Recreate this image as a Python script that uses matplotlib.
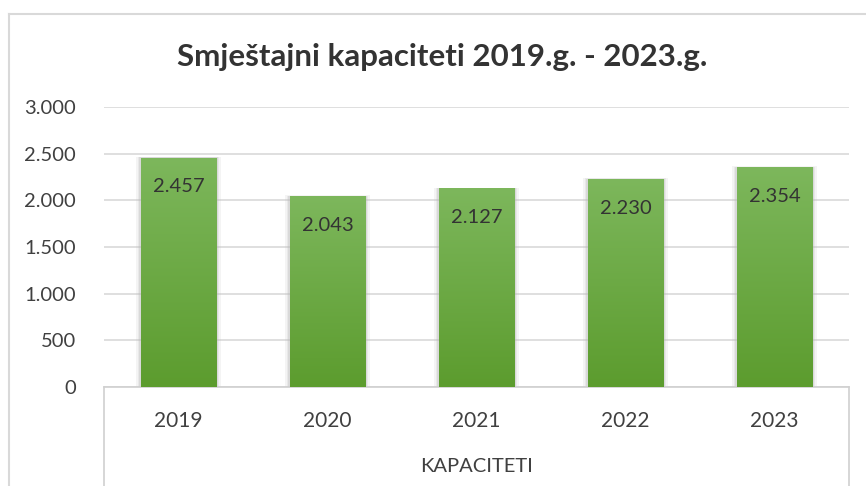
import matplotlib
matplotlib.use("Agg")
import matplotlib.pyplot as plt
import numpy as np
from matplotlib.colors import LinearSegmentedColormap
from matplotlib.lines import Line2D
from matplotlib.patches import Rectangle

categories = ["2019", "2020", "2021", "2022", "2023"]
values = [2457, 2043, 2127, 2230, 2354]
labels = ["2.457", "2.043", "2.127", "2.230", "2.354"]
yticks = [0, 500, 1000, 1500, 2000, 2500, 3000]
ytick_labels = ["0", "500", "1.000", "1.500", "2.000", "2.500", "3.000"]
title = "Smještajni kapaciteti 2019.g. - 2023.g."
group_label = "KAPACITETI"

plt.rcParams['font.family'] = ['Lato', 'DejaVu Sans']

W, H = 866, 486
fig = plt.figure(figsize=(W/100, H/100), dpi=100)
L, R, T, B = 104, 849, 107, 387
ax = fig.add_axes([L/W, 1-B/H, (R-L)/W, (B-T)/H])
ax.set_xlim(-0.5, len(categories)-0.5)
ax.set_ylim(0, 3000)

cmap = LinearSegmentedColormap.from_list("g", ["#5c9c2e", "#7db75c"])
width = 0.51
x = np.arange(len(categories))
for xi, v, lab in zip(x, values, labels):
    for k, a in [(0.03, 0.15), (0.02, 0.2), (0.01, 0.3)]:
        sh = Rectangle((xi - width/2 - k, -10), width + 2*k, v + 10 + k*300,
                       facecolor="#b8b8b8", edgecolor="none", alpha=a, zorder=2)
        ax.add_patch(sh)
    bar = ax.bar(xi, v, width=width, color="#6aa840", zorder=3, edgecolor="none")[0]
    grad = np.linspace(0, 1, 256).reshape(-1, 1)
    im = ax.imshow(grad, cmap=cmap, extent=[xi - width/2, xi + width/2, 0, v],
                   origin="lower", aspect="auto", zorder=4)
    im.set_clip_path(bar)
    ax.annotate(lab, (xi, v), xytext=(0, -21), textcoords="offset points",
                ha="center", va="center", fontsize=14.5, color="#333333", zorder=5)

ax.set_yticks(yticks)
ax.set_yticklabels(ytick_labels, fontsize=14.5, color="#404040")
ax.set_xticks(x)
ax.set_xticklabels(categories, fontsize=15, color="#404040")
ax.tick_params(axis="y", length=0, pad=20)
ax.tick_params(axis="x", length=0, pad=17)
ax.yaxis.grid(True, color="#d9d9d9", linewidth=1.2, zorder=0)
ax.set_axisbelow(True)
for s in ["top", "right", "left"]:
    ax.spines[s].set_visible(False)
ax.spines["bottom"].set_color("#d0d0d0")
ax.spines["bottom"].set_linewidth(1.2)

# multi-level category axis boxes
for px in (L, R):
    fig.add_artist(Line2D([px/W, px/W], [1-B/H, 0], color="#d0d0d0", lw=1.2))
fig.text((L+R)/2/W, 1-466/H, group_label, ha="center", va="center",
         fontsize=14.5, color="#404040")

# chart border
fig.add_artist(Line2D([9/W, 1], [1-14/H, 1-14/H], color="#d9d9d9", lw=1.5))
fig.add_artist(Line2D([9/W, 9/W], [1-14/H, 0], color="#d9d9d9", lw=1.5))

fig.text(442/W, 1-57/H, title, ha="center", va="center", fontsize=22.5,
         fontweight="bold", color="#333333")

fig.savefig("out.png", dpi=100)
